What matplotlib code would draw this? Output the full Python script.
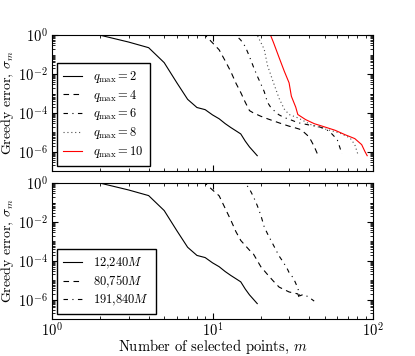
import matplotlib
matplotlib.use("Agg")
import matplotlib.pyplot as plt
from matplotlib.ticker import LogLocator, NullFormatter

plt.rcParams['font.family'] = 'serif'
plt.rcParams['font.serif'] = ['cmr10', 'DejaVu Serif']
plt.rcParams['mathtext.fontset'] = 'cm'
plt.rcParams['axes.formatter.use_mathtext'] = True
plt.rcParams['axes.unicode_minus'] = False

# ---- data: log10 of greedy error vs m ----
# top panel, q_max series
m_q2 = [1, 2, 3, 4, 5, 6, 7, 8, 9, 10, 11, 12, 13, 14, 15, 16, 17, 18, 19]
lg_q2 = [0, 0, -0.35, -0.64, -1.41, -2.45, -3.3, -3.72, -3.83, -4.1, -4.3,
         -4.55, -4.75, -4.92, -5.08, -5.45, -5.75, -5.98, -6.2]

m_q4 = [1, 9, 10, 11, 12, 13, 14, 15, 16, 17, 18, 20, 22, 24, 26, 28, 30,
        32, 35, 37, 39, 41, 43, 45]
lg_q4 = [0, 0, -0.39, -0.75, -1.32, -1.87, -2.47, -2.95, -3.45, -3.88, -4.0,
         -4.17, -4.3, -4.41, -4.51, -4.6, -4.68, -4.74, -4.84, -4.98, -5.15,
         -5.4, -5.72, -6.1]

m_q6 = [1, 14, 15, 16, 17, 18, 19, 20, 21, 22, 23, 24, 25, 26, 28, 30, 34,
        40, 46, 50, 54, 58, 60, 62, 64]
lg_q6 = [0, 0, -0.25, -0.58, -1.1, -1.63, -2.1, -2.5, -2.9, -3.45, -3.7,
         -3.85, -4.0, -4.1, -4.24, -4.32, -4.5, -4.62, -4.71, -4.8, -4.98,
         -5.25, -5.4, -5.75, -6.1]

m_q8 = [1, 19, 21, 22, 24, 26, 28, 30, 34, 41, 50, 62, 72, 77, 81]
lg_q8 = [0, 0, -0.72, -1.55, -2.45, -3.25, -3.8, -4.08, -4.25, -4.6, -4.82,
         -5.03, -5.29, -5.63, -6.2]

m_q10 = [1, 23, 24, 26, 28, 30, 31, 33, 34, 38, 43, 50, 58, 67, 77, 85, 89, 92]
lg_q10 = [0, 0, -0.38, -1.15, -1.85, -2.45, -3.14, -3.7, -4.08, -4.34, -4.55,
          -4.72, -4.89, -5.12, -5.32, -5.63, -5.98, -6.2]

top_labels = [r'$q_{\rm max} = 2$', r'$q_{\rm max} = 4$', r'$q_{\rm max} = 6$',
              r'$q_{\rm max} = 8$', r'$q_{\rm max} = 10$']

# bottom panel, duration series
m_a = m_q2
lg_a = lg_q2

m_b = [1, 9, 10, 11, 12, 13, 14, 15, 17, 18, 20, 22, 24, 26, 28, 30, 34, 35]
lg_b = [0, 0, -0.35, -0.65, -1.3, -1.9, -2.5, -2.95, -3.45, -3.65, -4.3,
        -4.7, -5.05, -5.35, -5.48, -5.6, -5.7, -5.97]

m_c = [1, 16, 17, 18, 19, 20, 21, 22, 24, 26, 27, 29, 30, 32, 34, 35, 37,
       40, 43]
lg_c = [0, 0, -0.3, -0.7, -1.15, -1.65, -2.25, -2.6, -3.2, -3.75, -3.95,
        -4.35, -4.6, -4.9, -5.4, -5.8, -5.72, -5.88, -6.07]

bottom_labels = [r'$12{,}240M$', r'$80{,}750M$', r'$191{,}840M$']

# ---- figure ----
fig = plt.figure(figsize=(4.15, 3.56), dpi=100)
ax1 = fig.add_axes([0.1253, 0.5190, 0.7735, 0.382])
ax2 = fig.add_axes([0.1253, 0.1035, 0.7735, 0.382])

def tenpow(lg):
    return [10.0 ** v for v in lg]

dash = (0, (5, 4))
dashdot = (0, (4, 4, 1, 4))
dot = (0, (1, 2.5))
lw = 0.8

ax1.plot(m_q2, tenpow(lg_q2), color='k', ls='-', lw=lw, label=top_labels[0])
ax1.plot(m_q4, tenpow(lg_q4), color='k', ls=dash, lw=lw, label=top_labels[1])
ax1.plot(m_q6, tenpow(lg_q6), color='k', ls=dashdot, lw=lw, label=top_labels[2])
ax1.plot(m_q8, tenpow(lg_q8), color='0.3', ls=dot, lw=lw, label=top_labels[3])
ax1.plot(m_q10, tenpow(lg_q10), color='red', ls='-', lw=lw, label=top_labels[4])

ax2.plot(m_a, tenpow(lg_a), color='k', ls='-', lw=lw, label=bottom_labels[0])
ax2.plot(m_b, tenpow(lg_b), color='k', ls=dash, lw=lw, label=bottom_labels[1])
ax2.plot(m_c, tenpow(lg_c), color='k', ls=dashdot, lw=lw, label=bottom_labels[2])

for ax in (ax1, ax2):
    ax.set_xscale('log')
    ax.set_yscale('log')
    ax.set_xlim(1, 100)
    ax.set_ylim(1e-7, 1)
    ax.set_yticks([1e-6, 1e-4, 1e-2, 1e0])
    ax.yaxis.set_minor_locator(LogLocator(base=10, subs=(1.0, 2.0, 3.0, 4.0, 5.0, 6.0, 7.0, 8.0, 9.0), numticks=20))
    ax.yaxis.set_minor_formatter(NullFormatter())
    ax.xaxis.set_minor_formatter(NullFormatter())
    ax.tick_params(which='both', direction='in', top=True, right=True,
                   labelsize=10.5, pad=3)
    ax.tick_params(axis='x', which='major', pad=1.5)
    ax.tick_params(which='major', length=4)
    ax.tick_params(which='minor', length=2)
    ax.set_ylabel(r'Greedy error, $\sigma_m$', fontsize=10, labelpad=1)
    ax.legend(loc='lower left', fontsize=9, fancybox=False, edgecolor='k',
              framealpha=1, handlelength=1.5, handletextpad=0.9,
              labelspacing=0.22, borderaxespad=0.4, borderpad=0.5)

ax1.set_xticklabels([])
ax2.set_xlabel(r'Number of selected points, $m$', fontsize=10.5, labelpad=-1)

fig.savefig('out.png', dpi=100)
